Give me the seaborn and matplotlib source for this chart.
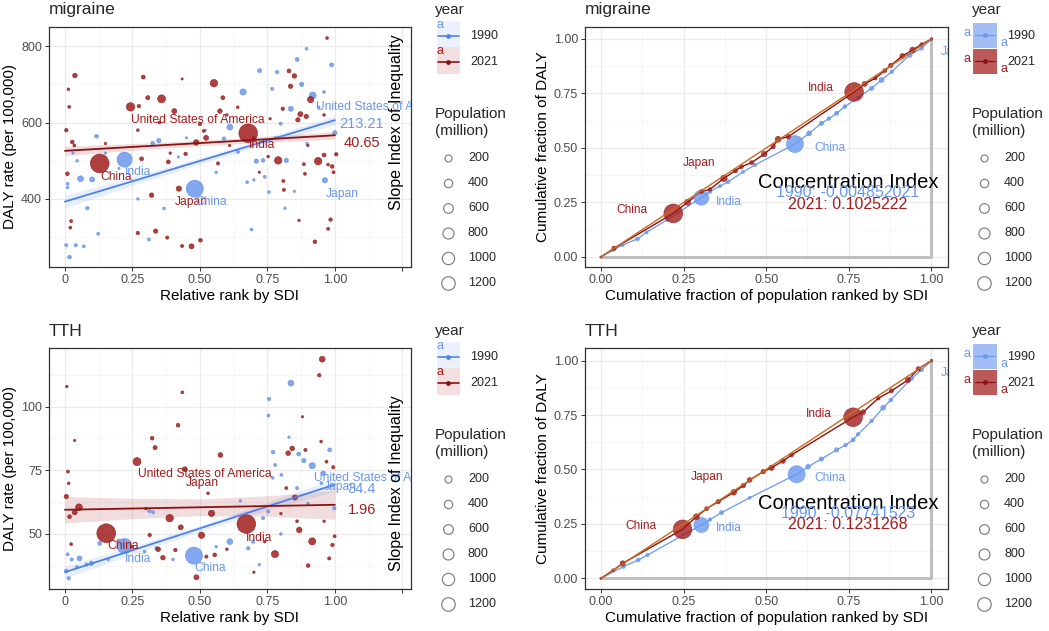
import numpy as np
import pandas as pd
import matplotlib
matplotlib.use("Agg")
import matplotlib.pyplot as plt
from matplotlib.patches import Rectangle
import seaborn as sns

# ---------------- data ----------------
# Migraine, 1990 (relative rank by SDI, DALY rate, population in million)
MIG90_X = [0.221, 0.481, 0.611, 0.660, 0.918, 0.837, 0.963, 0.988, 1.000, 0.860, 0.895, 0.721, 0.786, 0.877, 0.768,
           0.058, 0.101, 0.117, 0.348, 0.083, 0.017, 0.005, 0.040, 0.070, 0.123, 0.311, 0.367, 0.589, 0.691, 0.709,
           0.734, 0.820, 0.756, 0.675, 0.799, 0.641, 0.897, 0.325, 0.010, 0.030, 0.150, 0.200, 0.420, 0.520, 0.560,
           0.740, 0.780, 0.815, 0.940, 0.960, 0.850, 0.010, 0.045, 0.270, 0.450, 0.700]
MIG90_Y = [503, 427, 588, 680, 671, 636, 449, 751, 573, 765, 793, 736, 732, 700, 688,
           453, 451, 564, 553, 376, 248, 279, 279, 276, 309, 294, 375, 558, 320, 499,
           501, 501, 418, 444, 597, 523, 545, 546, 430, 520, 520, 480, 510, 580, 470,
           458, 560, 376, 640, 680, 420, 440, 500, 400, 560, 450]
MIG90_POP = [870, 1150, 95, 110, 140, 60, 70, 30, 40, 30, 10, 30, 20, 40, 15,
             90, 60, 25, 40, 20, 25, 15, 15, 12, 10, 15, 10, 20, 10, 40,
             25, 40, 10, 12, 15, 15, 10, 25, 8, 5, 5, 4, 5, 4, 5,
             12, 6, 5, 8, 10, 5, 10, 8, 5, 4, 5]

# Migraine, 2021
MIG21_X = [0.129, 0.679, 0.243, 0.358, 0.552, 0.790, 0.938, 0.910, 0.037, 0.486, 0.523, 0.405, 0.574, 0.585, 0.422,
           0.469, 0.321, 0.336, 0.379, 0.502, 0.270, 0.383, 0.290, 0.307, 0.447, 0.434, 0.850, 0.830, 0.836, 0.872,
           0.863, 0.894, 0.807, 0.971, 0.984, 0.926, 0.975, 1.005, 0.885, 0.889, 0.809, 0.811, 0.867, 0.005, 0.009,
           0.027, 0.023, 0.013, 0.016, 0.020, 0.284, 0.274, 0.434, 0.960, 0.990, 0.995, 0.975, 0.514, 0.500, 0.567,
           0.753, 0.640, 0.700, 0.150, 0.610, 0.720, 0.900, 0.960, 0.270, 0.390, 0.035, 0.350, 0.600, 0.760]
MIG21_Y = [493, 572, 641, 662, 703, 501, 499, 660, 723, 548, 560, 630, 630, 665, 427,
           276, 410, 316, 299, 292, 311, 497, 719, 665, 518, 277, 722, 735, 695, 622,
           607, 616, 636, 821, 346, 288, 322, 517, 491, 466, 447, 424, 344, 580, 466,
           549, 342, 687, 641, 325, 505, 643, 714, 515, 485, 470, 490, 578, 596, 493,
           511, 640, 560, 545, 540, 470, 540, 620, 580, 520, 540, 600, 620, 610]
MIG21_POP = [1410, 1400, 230, 200, 170, 170, 170, 110, 45, 80, 60, 60, 45, 30, 70,
             60, 45, 40, 15, 25, 20, 30, 30, 35, 20, 15, 45, 30, 40, 60,
             40, 40, 20, 10, 20, 25, 12, 20, 12, 12, 12, 15, 6, 20, 25,
             25, 12, 8, 10, 10, 30, 20, 3, 30, 25, 12, 10, 10, 15, 15,
             8, 8, 6, 5, 5, 5, 6, 8, 8, 6, 10, 8, 6, 5]

# TTH, 1990
TTH90_X = [0.478, 0.221, 0.837, 0.916, 0.611, 0.957, 0.756, 0.754, 0.771, 0.866, 0.885, 0.981, 0.998, 0.054, 0.098,
           0.129, 0.014, 0.005, 0.025, 0.045, 0.080, 0.313, 0.327, 0.753, 0.734, 0.697, 0.679, 0.802, 0.779, 0.860,
           0.295, 0.339, 0.720, 0.800, 0.900, 0.400, 0.560, 0.650, 0.830, 0.160, 0.200, 0.950, 0.010, 0.770]
TTH90_Y = [41.5, 45.3, 109.2, 76.8, 47.0, 73.8, 103.0, 96.5, 82.1, 81.4, 78.8, 83.0, 60.1, 40.4, 38.5,
           46.3, 32.6, 35.5, 40.0, 37.0, 38.0, 59.0, 58.5, 58.8, 56.2, 47.0, 44.4, 73.2, 77.1, 68.0,
           43.1, 44.4, 38.0, 50.0, 62.0, 40.0, 45.0, 63.0, 88.0, 40.0, 47.5, 70.0, 42.0, 72.0]
TTH90_POP = [1150, 870, 90, 110, 90, 50, 20, 12, 25, 30, 40, 30, 20, 60, 40,
             30, 20, 25, 15, 15, 15, 20, 15, 15, 15, 20, 20, 12, 12, 15,
             12, 15, 6, 8, 8, 8, 6, 6, 5, 8, 6, 10, 12, 8]

# TTH, 2021
TTH21_X = [0.153, 0.672, 0.267, 0.052, 0.388, 0.444, 0.506, 0.543, 0.778, 0.916, 0.868, 0.953, 0.942, 0.576, 0.419,
           0.435, 0.323, 0.334, 0.005, 0.007, 0.036, 0.487, 0.901, 0.429, 0.363, 0.345, 0.827, 0.842, 0.852, 0.969,
           0.994, 0.999, 0.991, 0.979, 0.017, 0.314, 0.409, 0.524, 0.555, 0.891, 0.949, 0.011, 0.014, 0.023, 0.820,
           0.860, 0.740, 0.800, 0.600, 0.300, 0.250, 0.700, 0.530, 0.960, 0.036, 0.880]
TTH21_Y = [50.3, 53.9, 78.4, 60.5, 56.2, 75.4, 49.5, 58.1, 42.1, 47.1, 51.6, 118.6, 112.3, 81.0, 92.7,
           105.6, 87.6, 83.9, 64.7, 107.9, 58.5, 33.0, 37.6, 52.6, 40.7, 44.0, 81.7, 83.6, 64.3, 78.4,
           76.2, 49.1, 45.7, 40.4, 56.8, 49.6, 43.7, 41.1, 41.8, 83.0, 86.3, 74.5, 69.9, 46.0, 68.0,
           55.0, 47.0, 58.0, 44.0, 60.0, 45.0, 35.0, 66.0, 55.0, 86.7, 96.0]
TTH21_POP = [1410, 1400, 200, 130, 170, 60, 110, 110, 150, 150, 80, 90, 20, 50, 25,
             10, 25, 35, 40, 6, 60, 60, 25, 60, 45, 50, 50, 50, 60, 12,
             15, 12, 20, 15, 25, 20, 20, 15, 25, 15, 8, 12, 8, 10, 12,
             10, 8, 6, 8, 8, 6, 5, 8, 6, 4, 4]

# Slope index of inequality fits (intercept, slope) and CI half-widths at x = 0, .25, .5, .75, 1
FIT_X = [0.0, 0.25, 0.5, 0.75, 1.0]
MIG_SII = {"1990": (393.0, 213.21), "2021": (526.0, 40.65)}
MIG_BAND = {"1990": [17, 11, 8, 9, 12], "2021": [12, 9, 7, 8, 10]}
TTH_SII = {"1990": (35.0, 34.4), "2021": (59.5, 1.96)}
TTH_BAND = {"1990": [2.5, 1.6, 1.2, 1.5, 2.6], "2021": [5.2, 4.0, 3.3, 4.0, 5.7]}

# Concentration curves (cumulative population fraction, cumulative DALY fraction, population)
MIGC90_X = [0, 0.035, 0.065, 0.111, 0.138, 0.2, 0.304, 0.33, 0.36, 0.385, 0.43, 0.466, 0.587, 0.63, 0.667, 0.69,
            0.713, 0.738, 0.778, 0.819, 0.849, 0.88, 0.934, 0.97, 1.0]
MIGC90_Y = [0, 0.03, 0.055, 0.083, 0.113, 0.17, 0.272, 0.3, 0.325, 0.345, 0.39, 0.422, 0.518, 0.567, 0.613, 0.635,
            0.659, 0.69, 0.731, 0.774, 0.812, 0.85, 0.927, 0.957, 1.0]
MIGC90_POP = [1, 10, 20, 25, 15, 10, 870, 30, 15, 25, 10, 20, 1150, 60, 40, 20, 30, 25, 15, 40, 60, 20, 60, 25, 5]
MIGC21_X = [0, 0.04, 0.219, 0.262, 0.304, 0.33, 0.372, 0.407, 0.425, 0.456, 0.494, 0.521, 0.536, 0.567, 0.766,
            0.798, 0.83, 0.859, 0.877, 0.912, 0.943, 0.97, 1.0]
MIGC21_Y = [0, 0.04, 0.2, 0.251, 0.3, 0.31, 0.361, 0.396, 0.414, 0.433, 0.472, 0.506, 0.54, 0.552, 0.757,
            0.794, 0.82, 0.855, 0.879, 0.922, 0.95, 0.975, 1.0]
MIGC21_POP = [1, 40, 1410, 100, 30, 20, 120, 40, 30, 30, 80, 40, 90, 40, 1400, 60, 20, 30, 40, 60, 80, 20, 5]
TTHC90_X = [0, 0.068, 0.113, 0.141, 0.304, 0.33, 0.365, 0.45, 0.592, 0.627, 0.667, 0.713, 0.74, 0.763, 0.778,
            0.819, 0.854, 0.877, 0.94, 0.97, 1.0]
TTHC90_Y = [0, 0.054, 0.084, 0.107, 0.245, 0.27, 0.302, 0.37, 0.478, 0.513, 0.548, 0.59, 0.612, 0.636, 0.662,
            0.723, 0.784, 0.819, 0.919, 0.957, 1.0]
TTHC90_POP = [1, 25, 25, 15, 870, 20, 30, 10, 1150, 50, 40, 40, 20, 30, 20, 20, 60, 25, 30, 20, 5]
TTHC21_X = [0, 0.037, 0.066, 0.247, 0.289, 0.32, 0.355, 0.402, 0.431, 0.45, 0.491, 0.516, 0.551, 0.577, 0.763,
            0.793, 0.839, 0.879, 0.929, 0.96, 1.0]
TTHC21_Y = [0, 0.037, 0.069, 0.225, 0.283, 0.32, 0.352, 0.395, 0.426, 0.452, 0.49, 0.508, 0.539, 0.567, 0.74,
            0.763, 0.827, 0.861, 0.911, 0.962, 1.0]
TTHC21_POP = [1, 10, 60, 1410, 90, 30, 40, 80, 40, 50, 40, 70, 50, 30, 1400, 60, 20, 30, 70, 40, 5]

MIG_CI = {"1990": "1990: -0.004852021", "2021": "2021: 0.1025222"}
TTH_CI = {"1990": "1990: -0.07741523", "2021": "2021: 0.1231268"}

# Country labels: (name, year, x, y)
MIG_LABELS = [("United States of America", "2021", 0.494, 607), ("India", "2021", 0.731, 540),
              ("China", "2021", 0.19, 457), ("Japan", "2021", 0.467, 392),
              ("United States of America", "1990", 1.176, 641), ("India", "1990", 0.272, 471),
              ("China", "1990", 0.54, 392), ("Japan", "1990", 1.026, 414)]
TTH_LABELS = [("United States of America", "2021", 0.52, 73.4), ("Japan", "2021", 0.51, 70.1),
              ("China", "2021", 0.215, 45.4), ("India", "2021", 0.72, 48.5),
              ("United States of America", "1990", 1.17, 71.8), ("Japan", "1990", 1.02, 68.6),
              ("India", "1990", 0.27, 40.0), ("China", "1990", 0.537, 36.5)]
MIGC_LABELS = [("India", "2021", 0.665, 0.774), ("Japan", "2021", 0.296, 0.43), ("China", "2021", 0.094, 0.216),
               ("China", "1990", 0.693, 0.501), ("India", "1990", 0.387, 0.254), ("Japan", "1990", 1.076, 0.94)]
TTHC_LABELS = [("India", "2021", 0.66, 0.757), ("Japan", "2021", 0.32, 0.467), ("China", "2021", 0.121, 0.242),
               ("China", "1990", 0.693, 0.46), ("India", "1990", 0.387, 0.23), ("Japan", "1990", 1.076, 0.942)]

POP_LEGEND = [200, 400, 600, 800, 1000, 1200]
YEARS = ["1990", "2021"]

# ---------------- style ----------------
sns.set_theme(style="white")
plt.rcParams['font.family'] = ['Liberation Sans', 'DejaVu Sans']

COL = {"1990": "#6A98EE", "2021": "#A31D1D"}
EDGE = {"1990": "#5C8BE6", "2021": "#8A1010"}
LINE = {"1990": "#4E82E8", "2021": "#8B1212"}

W, H = 1049, 631
fig = plt.figure(figsize=(W / 100, H / 100), dpi=100)


def add_ax(x0, y0, x1, y1):
    return fig.add_axes([x0 / W, 1 - y1 / H, (x1 - x0) / W, (y1 - y0) / H])


def diam(p):
    return 1.5 + 0.46 * np.sqrt(np.asarray(p, float))


def area(p):
    return (diam(p) * 0.72) ** 2


def style(ax, xlim, ylim, xt, xtl, yt, ytl, xmin, ymin):
    ax.set_xlim(xlim)
    ax.set_ylim(ylim)
    ax.set_xticks(xt)
    ax.set_xticklabels(xtl)
    ax.set_yticks(yt)
    ax.set_yticklabels(ytl)
    ax.set_xticks(xmin, minor=True)
    ax.set_yticks(ymin, minor=True)
    ax.grid(True, which='major', color='#EBEBEB', lw=0.9)
    ax.grid(True, which='minor', color='#F3F3F3', lw=0.5)
    ax.set_axisbelow(True)
    for s in ax.spines.values():
        s.set_visible(True)
        s.set_color('#333333')
        s.set_linewidth(0.9)
    ax.tick_params(which='major', direction='out', length=3, width=0.7, color='#333333',
                   labelsize=9, labelcolor='#4D4D4D', pad=2, bottom=True, left=True)
    ax.tick_params(which='minor', length=0)


def bubbles(ax, xs, ys, pops, yr, alpha=0.85, z=3):
    df = pd.DataFrame({'x': xs, 'y': ys, 's': area(pops)})
    lo, hi = float(df.s.min()), float(df.s.max())
    sns.scatterplot(data=df, x='x', y='y', size='s', sizes=(lo, hi), size_norm=(lo, hi),
                    color=COL[yr], edgecolor=EDGE[yr], linewidth=0.4, alpha=alpha,
                    legend=False, ax=ax, zorder=z)


def sii_panel(ax, data, sii, band, labels, ylim, yt, ymin, sii_pos, slope_y):
    for yr in YEARS:
        a, b = sii[yr]
        fx = np.array(FIT_X)
        fy = a + b * fx
        hw = np.array(band[yr])
        ax.fill_between(fx, fy - hw, fy + hw, color=COL[yr], alpha=0.15, lw=0, zorder=2)
    for yr in YEARS:
        xs, ys, ps = data[yr]
        bubbles(ax, xs, ys, ps, yr)
    for yr in YEARS:
        a, b = sii[yr]
        fx = np.array(FIT_X)
        sns.lineplot(x=fx, y=a + b * fx, color=LINE[yr], lw=1.3, ax=ax, zorder=5, sort=False, estimator=None)
    for name, yr, x, y in labels:
        ax.text(x, y, name, color=COL[yr], fontsize=8.7, ha='center', va='center', clip_on=True, zorder=6)
    for yr in YEARS:
        x, y = sii_pos[yr]
        ax.text(x, y, f"{sii[yr][1]:g}", color=COL[yr], fontsize=10.5, ha='center', va='center', zorder=6)
    ax.text(0.961, slope_y, "Slope Index of Inequality", rotation=90, transform=ax.transAxes,
            ha='center', va='center', fontsize=11.5, color='black', zorder=6)
    style(ax, (-0.059, 1.282), ylim, [0, 0.25, 0.5, 0.75, 1.0, 1.25],
          ['0', '0.25', '0.50', '0.75', '1.00', ''], yt, [str(v) for v in yt],
          [0.125, 0.375, 0.625, 0.875, 1.125], ymin)
    ax.set_xlabel("Relative rank by SDI", fontsize=11, labelpad=2, color='black')
    ax.set_ylabel("DALY rate (per 100,000)", fontsize=11, labelpad=3, color='black')


def ci_panel(ax, data, labels, ci, ylim):
    ax.plot([0, 1, 1], [0, 0, 1], color='#BEBEBE', lw=2.2, zorder=2)
    for yr in YEARS:
        xs, ys, ps = data[yr]
        sns.lineplot(x=xs, y=ys, color=COL[yr] if yr == "1990" else LINE[yr], lw=1.0 if yr == "2021" else 0.9,
                     ax=ax, zorder=3, sort=False, estimator=None)
        bubbles(ax, xs, ys, ps, yr, alpha=0.8, z=4)
    ax.plot([0, 1], [0, 1], color='#CD6A1E', lw=1.0, zorder=5)
    for name, yr, x, y in labels:
        ax.text(x, y, name, color=COL[yr], fontsize=8.6, ha='center', va='center', clip_on=True, zorder=6)
    ax.text(0.747, ylim[2], "Concentration Index", fontsize=14.5, ha='center', va='center', color='black', zorder=6)
    ax.text(0.747, ylim[3], ci["1990"], fontsize=11.5, ha='center', va='center', color=COL["1990"], zorder=6)
    ax.text(0.747, ylim[4], ci["2021"], fontsize=11.5, ha='center', va='center', color=COL["2021"], zorder=6)
    t = [0, 0.25, 0.5, 0.75, 1.0]
    tl = ['0.00', '0.25', '0.50', '0.75', '1.00']
    style(ax, (-0.048, 1.05), (ylim[0], ylim[1]), t, tl, t, tl, [0.125, 0.375, 0.625, 0.875], [0.125, 0.375, 0.625, 0.875])
    ax.set_xlabel("Cumulative fraction of population ranked by SDI", fontsize=11, labelpad=2, color='black')
    ax.set_ylabel("Cumulative fraction of DALY", fontsize=11, labelpad=3, color='black')


def legends(x0, dy, right):
    lax = fig.add_axes([(x0 - 12) / W, 1 - (dy + 300) / H, 100 / W, 300 / H])
    lax.set_xlim(x0 - 12, x0 + 88)
    lax.set_ylim(dy + 300, dy)
    lax.axis('off')
    lax.text(x0, dy + 10, "year", fontsize=11, va='center', ha='left')
    for i, yr in enumerate(YEARS):
        yc = dy + 36 + 26 * i
        if right:
            fill = "#A3BEF5" if yr == "1990" else "#BC5A5A"
            lax.add_patch(Rectangle((x0 + 1, yc - 13), 24, 25, color=fill, lw=0))
            lax.text(x0 - 5, yc - 3, "a", color=COL[yr], fontsize=9, ha='center', va='center')
            lax.text(x0 + 32, yc + 7, "a", color=COL[yr], fontsize=9, ha='center', va='center')
            lax.plot([x0 + 3, x0 + 23], [yc - 1, yc - 1], color=COL[yr] if yr == "1990" else LINE[yr], lw=0.9)
            lax.scatter([x0 + 13], [yc - 1], s=12, color=COL[yr] if yr == "1990" else LINE[yr], lw=0)
            lax.text(x0 + 35, yc, yr, fontsize=9, va='center', ha='left')
        else:
            fill = "#EAF0FC" if yr == "1990" else "#F3DFDF"
            lax.add_patch(Rectangle((x0 + 2, yc - 15), 23, 27, color=fill, lw=0))
            lax.text(x0 + 5, yc - 11, "a", color=COL[yr], fontsize=9, ha='center', va='center')
            lax.plot([x0 + 3, x0 + 24], [yc, yc], color=LINE[yr], lw=1.2)
            lax.scatter([x0 + 13], [yc], s=12, color=LINE[yr], lw=0)
            lax.text(x0 + 35, yc, yr, fontsize=9, va='center', ha='left')
    lax.text(x0, dy + 114, "Population", fontsize=11, va='center', ha='left')
    lax.text(x0, dy + 131, "(million)", fontsize=11, va='center', ha='left')
    dpx = [7, 8.4, 9.7, 11, 12.3, 13.5]
    cx = x0 + (13 if not right else 12)
    for i, p in enumerate(POP_LEGEND):
        yc = dy + 158 + 25 * i
        lax.scatter([cx], [yc], s=(dpx[i] * 0.72) ** 2, facecolor='white', edgecolor='#777777', lw=0.8)
        lax.text(x0 + (33 if not right else 32), yc, str(p), fontsize=9, va='center', ha='left')


# ---------------- panels ----------------
ax1 = add_ax(49, 27, 411, 267)
sii_panel(ax1, {"1990": (MIG90_X, MIG90_Y, MIG90_POP), "2021": (MIG21_X, MIG21_Y, MIG21_POP)},
          MIG_SII, MIG_BAND, MIG_LABELS, (222, 850), [400, 600, 800], [300, 500, 700],
          {"1990": (1.10, 596), "2021": (1.10, 546)}, 0.604)

ax3 = add_ax(49, 348, 411, 589)
sii_panel(ax3, {"1990": (TTH90_X, TTH90_Y, TTH90_POP), "2021": (TTH21_X, TTH21_Y, TTH21_POP)},
          TTH_SII, TTH_BAND, TTH_LABELS, (28.4, 123), [50, 75, 100], [37.5, 62.5, 87.5, 112.5],
          {"1990": (1.10, 67.6), "2021": (1.10, 59.4)}, 0.44)

ax2 = add_ax(585, 27, 948, 267)
ci_panel(ax2, {"1990": (MIGC90_X, MIGC90_Y, MIGC90_POP), "2021": (MIGC21_X, MIGC21_Y, MIGC21_POP)},
         MIGC_LABELS, MIG_CI, (-0.046, 1.055, 0.341, 0.295, 0.243))

ax4 = add_ax(585, 348, 948, 589)
ci_panel(ax4, {"1990": (TTHC90_X, TTHC90_Y, TTHC90_POP), "2021": (TTHC21_X, TTHC21_Y, TTHC21_POP)},
         TTHC_LABELS, TTH_CI, (-0.049, 1.058, 0.345, 0.296, 0.245))

# titles
for x, y, t in [(49, 14, "migraine"), (585, 14, "migraine"), (49, 336, "TTH"), (585, 336, "TTH")]:
    fig.text(x / W, 1 - y / H, t, fontsize=12.5, ha='left', va='baseline')

legends(435, 0, False)
legends(435, 321, False)
legends(972, 0, True)
legends(972, 321, True)

fig.savefig("out.png", dpi=100)
